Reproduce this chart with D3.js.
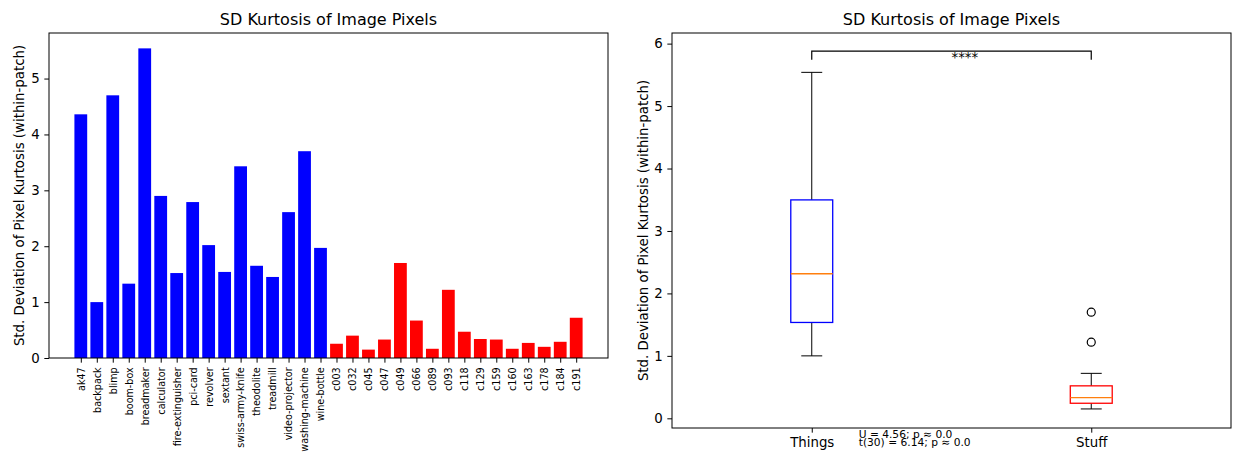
<!DOCTYPE html>
<html>
<head>
<meta charset="utf-8">
<script src="https://cdn.jsdelivr.net/npm/d3@7/dist/d3.min.js"></script>
<style>
body{margin:0;background:#fff;}
svg text{font-family:"DejaVu Sans",sans-serif;fill:#000;}
</style>
</head>
<body>
<svg id="fig" width="1235" height="466"></svg>
<script>
var thingsNames = ["ak47","backpack","blimp","boom-box","breadmaker","calculator","fire-extinguisher","pci-card","revolver","sextant","swiss-army-knife","theodolite","treadmill","video-projector","washing-machine","wine-bottle"];
var thingsValues = [4.36,1.00,4.70,1.33,5.54,2.90,1.52,2.79,2.02,1.54,3.43,1.65,1.45,2.61,3.70,1.97];
var stuffNames = ["c003","c032","c045","c047","c049","c066","c089","c093","c118","c129","c159","c160","c163","c178","c184","c191"];
var stuffValues = [0.255,0.40,0.15,0.33,1.70,0.67,0.165,1.22,0.47,0.34,0.33,0.165,0.27,0.20,0.29,0.72];
var barTicks = [0,1,2,3,4,5];
var boxTicks = [0,1,2,3,4,5,6];
var groupLabels = ["Things","Stuff"];
var groupColors = ["blue","red"];
var bracketTop = 5.88, bracketFoot = 5.74;
var sigLabel = "****";
var statLines = ["U = 4.56; p ≈ 0.0","t(30) = 6.14; p ≈ 0.0"];
var title = "SD Kurtosis of Image Pixels";
var yLabel = "Std. Deviation of Pixel Kurtosis (within-patch)";

var svg = d3.select("#fig");
var tickLen = 4.67;

function frame(g, x0, x1, y0, y1){
	g.append("rect")
		.attr("x", x0).attr("y", y0)
		.attr("width", x1 - x0).attr("height", y1 - y0)
		.attr("fill", "none").attr("stroke", "#000").attr("stroke-width", 1);
}

function styleAxis(a, size){
	a.select(".domain").remove();
	a.selectAll(".tick line").attr("stroke", "#000");
	a.selectAll(".tick text").attr("font-size", size).attr("fill", "#000")
		.style("font-family", "'DejaVu Sans', sans-serif");
}

function titleAndLabel(g, x0, x1, y0, y1, labelX){
	g.append("text").attr("x", (x0 + x1) / 2).attr("y", y0 - 8)
		.attr("text-anchor", "middle").attr("font-size", 16).text(title);
	g.append("text")
		.attr("transform", "translate(" + labelX + "," + (y0 + y1) / 2 + ") rotate(-90)")
		.attr("text-anchor", "middle").attr("font-size", 13.33).text(yLabel);
}

// left: bar chart
function drawBars(){
	var L = 49, R = 608, T = 33, B = 358;
	var names = thingsNames.concat(stuffNames);
	var data = thingsValues.map(function(v, i){ return {name: thingsNames[i], v: v, c: groupColors[0]}; })
		.concat(stuffValues.map(function(v, i){ return {name: stuffNames[i], v: v, c: groupColors[1]}; }));
	var n = data.length;
	var x = d3.scaleLinear().domain([-1.99, n - 1 + 1.99]).range([L, R]);
	var y = d3.scaleLinear().domain([0, 5.815]).range([B, T]);
	var g = svg.append("g");

	g.selectAll("rect.bar").data(data).enter().append("rect")
		.attr("class", "bar")
		.attr("x", function(d, i){ return x(i - 0.4); })
		.attr("width", x(0.4) - x(-0.4))
		.attr("y", function(d){ return y(d.v); })
		.attr("height", function(d){ return y(0) - y(d.v); })
		.attr("fill", function(d){ return d.c; });

	var ya = g.append("g").attr("transform", "translate(" + L + ",0)")
		.call(d3.axisLeft(y).tickValues(barTicks).tickFormat(d3.format("d")).tickSize(tickLen).tickPadding(4.67));
	styleAxis(ya, 13.33);

	var xa = g.append("g").attr("transform", "translate(0," + B + ")")
		.call(d3.axisBottom(x).tickValues(d3.range(n)).tickFormat(function(i){ return names[i]; }).tickSize(tickLen));
	styleAxis(xa, 9.6);
	xa.selectAll(".tick text")
		.attr("transform", "translate(0," + (tickLen + 4.67) + ") rotate(-90)")
		.attr("x", 0).attr("y", 0).attr("dy", "0.35em")
		.attr("text-anchor", "end");

	frame(g, L, R, T, B);
	titleAndLabel(g, L, R, T, B, 24);
}

function boxStats(vals){
	var s = vals.slice().sort(d3.ascending);
	var q1 = d3.quantile(s, 0.25), med = d3.quantile(s, 0.5), q3 = d3.quantile(s, 0.75);
	var iqr = q3 - q1;
	var inside = s.filter(function(v){ return v >= q1 - 1.5 * iqr && v <= q3 + 1.5 * iqr; });
	return {q1: q1, med: med, q3: q3, lo: d3.min(inside), hi: d3.max(inside),
		out: s.filter(function(v){ return v < q1 - 1.5 * iqr || v > q3 + 1.5 * iqr; })};
}

// right: box plot
function drawBoxes(){
	var L = 672, R = 1231, T = 33, B = 428;
	var x = d3.scaleLinear().domain([0.5, 2.5]).range([L, R]);
	var y = d3.scaleLinear().domain([-0.155, 6.17]).range([B, T]);
	var g = svg.append("g");
	var stats = [thingsValues, stuffValues].map(boxStats);
	var hw = (x(0.15) - x(0)) / 2;

	stats.forEach(function(s, i){
		var cx = x(i + 1);
		var bg = g.append("g");
		bg.append("line").attr("x1", cx).attr("x2", cx).attr("y1", y(s.q3)).attr("y2", y(s.hi)).attr("stroke", "#000");
		bg.append("line").attr("x1", cx).attr("x2", cx).attr("y1", y(s.q1)).attr("y2", y(s.lo)).attr("stroke", "#000");
		bg.append("line").attr("x1", cx - hw / 2).attr("x2", cx + hw / 2).attr("y1", y(s.hi)).attr("y2", y(s.hi)).attr("stroke", "#000");
		bg.append("line").attr("x1", cx - hw / 2).attr("x2", cx + hw / 2).attr("y1", y(s.lo)).attr("y2", y(s.lo)).attr("stroke", "#000");
		bg.append("rect").attr("x", cx - hw).attr("width", 2 * hw)
			.attr("y", y(s.q3)).attr("height", y(s.q1) - y(s.q3))
			.attr("fill", "none").attr("stroke", groupColors[i]).attr("stroke-width", 1.3);
		bg.append("line").attr("x1", cx - hw).attr("x2", cx + hw).attr("y1", y(s.med)).attr("y2", y(s.med))
			.attr("stroke", "#ff7f0e").attr("stroke-width", 1.3);
		bg.selectAll("circle").data(s.out).enter().append("circle")
			.attr("cx", cx).attr("cy", function(d){ return y(d); }).attr("r", 4)
			.attr("fill", "none").attr("stroke", "#000").attr("stroke-width", 1.2);
	});

	// significance bracket
	g.append("path")
		.attr("d", "M" + x(1) + "," + y(bracketFoot) + "V" + y(bracketTop) + "H" + x(2) + "V" + y(bracketFoot))
		.attr("fill", "none").attr("stroke", "#000").attr("stroke-width", 1.2);
	g.append("text").attr("x", x(1.5)).attr("y", y(bracketTop) + 10.5)
		.attr("font-size", 13.33).text(sigLabel);

	var ya = g.append("g").attr("transform", "translate(" + L + ",0)")
		.call(d3.axisLeft(y).tickValues(boxTicks).tickFormat(d3.format("d")).tickSize(tickLen).tickPadding(4.67));
	styleAxis(ya, 13.33);
	var xa = g.append("g").attr("transform", "translate(0," + B + ")")
		.call(d3.axisBottom(x).tickValues([1, 2]).tickFormat(function(d){ return groupLabels[d - 1]; }).tickSize(tickLen).tickPadding(4.67));
	styleAxis(xa, 13.33);

	// stats text (overlaps itself in the original too)
	g.selectAll("text.stat").data(statLines).enter().append("text")
		.attr("class", "stat")
		.attr("x", x(1.168))
		.attr("y", function(d, i){ return B + 10 + i * 8; })
		.attr("font-size", 10.67).text(function(d){ return d; });

	frame(g, L, R, T, B);
	titleAndLabel(g, L, R, T, B, 648);
}

drawBars();
drawBoxes();
</script>
</body>
</html>
